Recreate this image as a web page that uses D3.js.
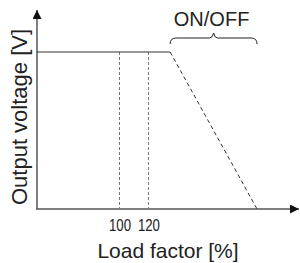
<!DOCTYPE html>
<html>
<head>
<meta charset="utf-8">
<script src="https://cdn.jsdelivr.net/npm/d3@7"></script>
<style>
  body { margin: 0; background: #fff; }
  svg { display: block; font-family: "Liberation Sans", Arial, sans-serif; }
</style>
</head>
<body>
<svg id="chart" width="300" height="263"></svg>
<script>
// load factor [%] values used on the sketch
var ratedLoads = [100, 120];        // dashed guides + tick labels
var flatLoad = [43, 135];           // constant voltage part
var flatVolt = [1, 1];
var dropLoad = [135, 195];          // ON/OFF drooping part
var dropVolt = [1, 0];
var braceLoad = [135, 195];
var braceLabel = "ON/OFF";
var xTitle = "Load factor [%]";
var yTitle = "Output voltage [V]";

var svg = d3.select("#chart");

var x = d3.scaleLinear().domain([43, 224]).range([37, 299]);
var y = d3.scaleLinear().domain([0, 1]).range([209, 52]);

// arrow heads
var defs = svg.append("defs");
defs.append("marker")
  .attr("id", "arrow")
  .attr("viewBox", "0 0 10 10")
  .attr("refX", 10).attr("refY", 5)
  .attr("markerUnits", "userSpaceOnUse")
  .attr("markerWidth", 9).attr("markerHeight", 9)
  .attr("orient", "auto")
  .append("path")
  .attr("d", "M0,0 L10,5 L0,10 Z")
  .attr("fill", "#111");

/************************* AXES ******************************/

// x axis (ticks only as labels)
var xAxis = d3.axisBottom(x)
  .tickValues(ratedLoads)
  .tickSize(0)
  .tickPadding(10);

var gx = svg.append("g")
  .attr("transform", "translate(0," + y(0) + ")")
  .call(xAxis);
gx.select(".domain").remove();
gx.selectAll("text")
  .attr("font-size", 17)
  .attr("fill", "#222")
  .attr("font-family", "Liberation Sans, Arial, sans-serif")
  .attr("textLength", 22)
  .attr("lengthAdjust", "spacingAndGlyphs");

svg.append("line")
  .attr("x1", x(43) - 1).attr("x2", x(224))
  .attr("y1", y(0)).attr("y2", y(0))
  .attr("stroke", "#555").attr("stroke-width", 1.5)
  .attr("marker-end", "url(#arrow)");

svg.append("line")
  .attr("x1", x(43)).attr("x2", x(43))
  .attr("y1", y(0)).attr("y2", 10)
  .attr("stroke", "#555").attr("stroke-width", 1.5)
  .attr("marker-end", "url(#arrow)");

/************************* LINES ******************************/

// dashed guides at 100 / 120 %
svg.selectAll(".guide")
  .data(ratedLoads)
  .enter()
  .append("line")
  .attr("class", "guide")
  .attr("x1", function (d) { return x(d) }).attr("x2", function (d) { return x(d) })
  .attr("y1", y(1)).attr("y2", y(0))
  .attr("stroke", "#777").attr("stroke-width", 1)
  .attr("stroke-dasharray", "3,2");

var line = d3.line()
  .x(function (d) { return x(d[0]) })
  .y(function (d) { return y(d[1]) });

svg.append("path")
  .datum(d3.zip(flatLoad, flatVolt))
  .attr("d", line)
  .attr("fill", "none")
  .attr("stroke", "#333").attr("stroke-width", 1.2);

svg.append("path")
  .datum(d3.zip(dropLoad, dropVolt))
  .attr("d", line)
  .attr("fill", "none")
  .attr("stroke", "#333").attr("stroke-width", 1)
  .attr("stroke-dasharray", "4,3");

/************************* BRACE ******************************/

var bx0 = x(braceLoad[0]), bx1 = x(braceLoad[1]);
var bm = (bx0 + bx1) / 2;
var bTop = 33, bMid = 38, bEnd = 44;
svg.append("path")
  .attr("d",
    "M" + bx0 + "," + bEnd +
    " Q" + bx0 + "," + bMid + " " + (bx0 + 6) + "," + bMid +
    " L" + (bm - 4) + "," + bMid +
    " Q" + (bm - 1) + "," + bMid + " " + bm + "," + bTop +
    " Q" + (bm + 1) + "," + bMid + " " + (bm + 4) + "," + bMid +
    " L" + (bx1 - 6) + "," + bMid +
    " Q" + bx1 + "," + bMid + " " + bx1 + "," + bEnd)
  .attr("fill", "none")
  .attr("stroke", "#222").attr("stroke-width", 1);

svg.append("text")
  .attr("x", bm - 2).attr("y", 26)
  .attr("text-anchor", "middle")
  .attr("font-size", 20)
  .attr("fill", "#222")
  .text(braceLabel);

/************************* TITLES ******************************/

svg.append("text")
  .attr("x", 168).attr("y", 258)
  .attr("text-anchor", "middle")
  .attr("font-size", 21)
  .attr("fill", "#222")
  .text(xTitle);

svg.append("text")
  .attr("transform", "translate(27,117) rotate(-90)")
  .attr("text-anchor", "middle")
  .attr("font-size", 22)
  .attr("fill", "#222")
  .text(yTitle);
</script>
</body>
</html>
